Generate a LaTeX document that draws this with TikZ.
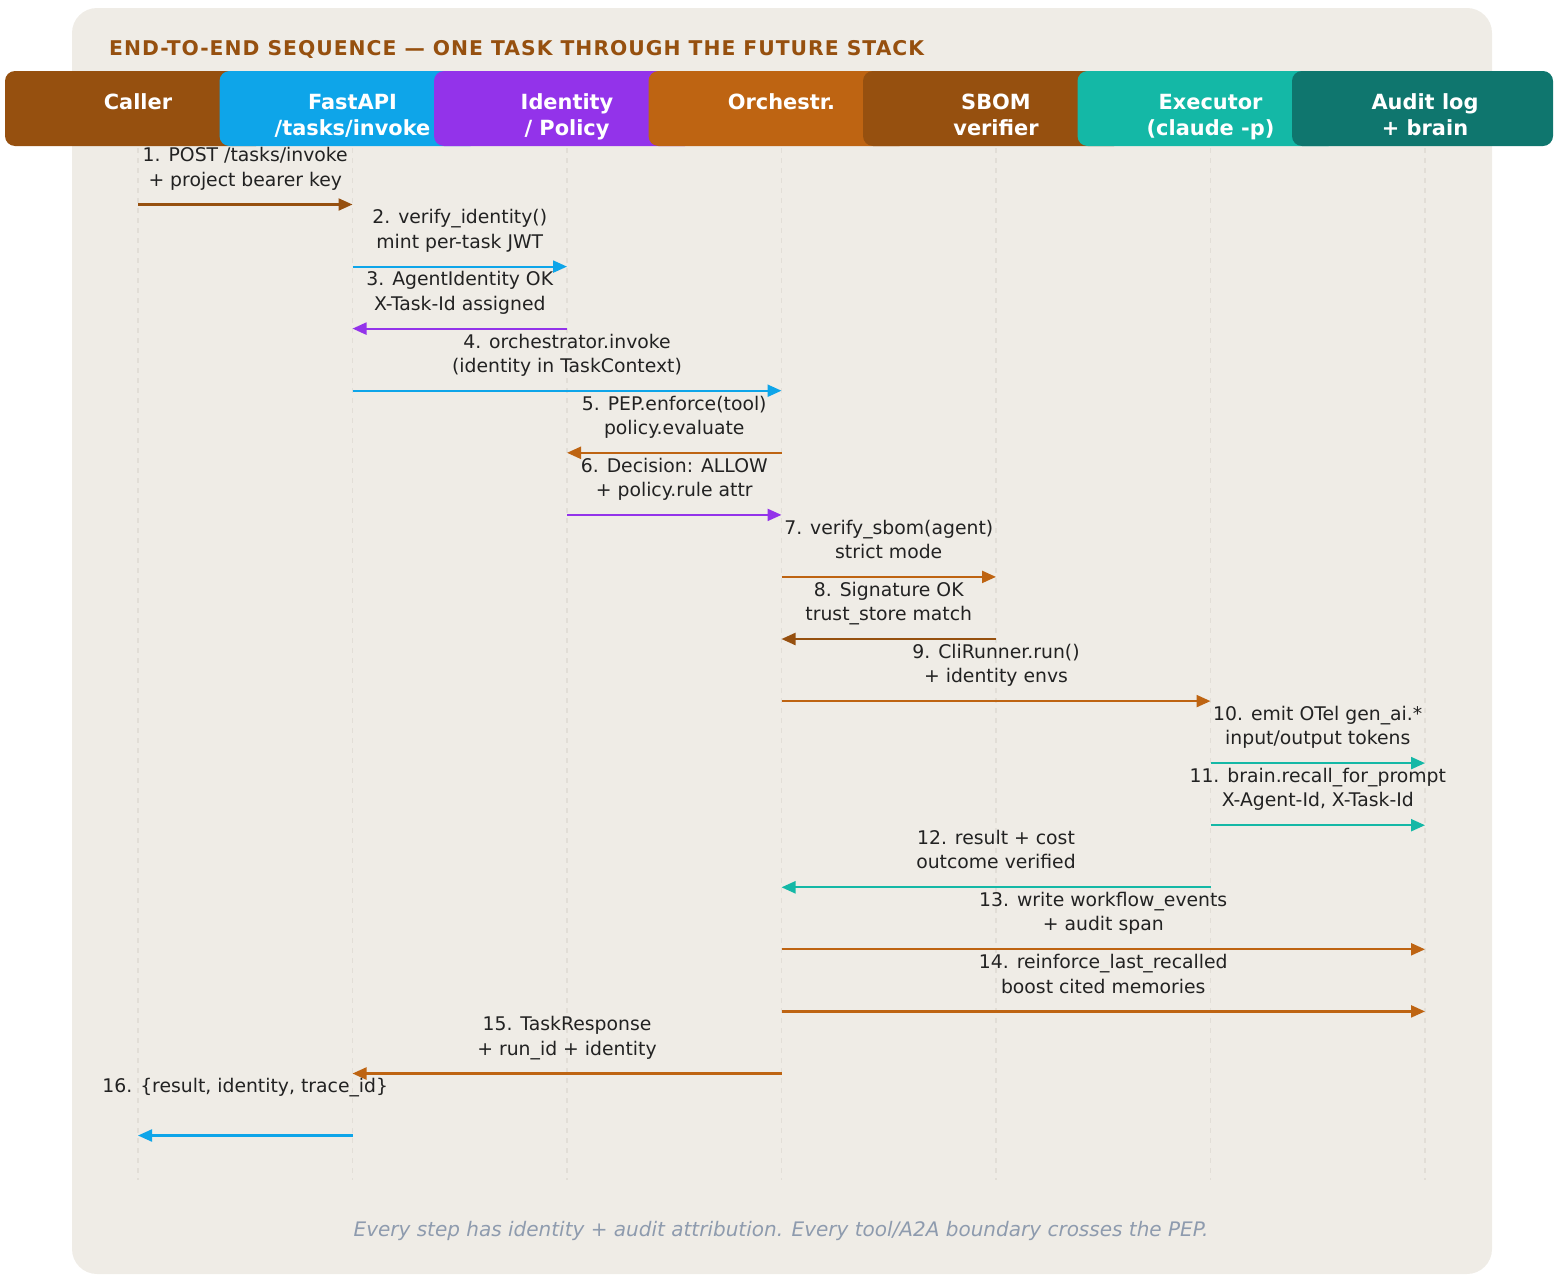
\documentclass[tikz,border=0pt]{standalone}
\usepackage{fontspec}
\setmainfont{DejaVu Sans}
\usetikzlibrary{arrows.meta,calc}

\definecolor{panelbg}{HTML}{EFECE6}
\definecolor{cBrown}{HTML}{96500F}
\definecolor{cSky}{HTML}{0EA5E9}
\definecolor{cPurple}{HTML}{9333EA}
\definecolor{cOrange}{HTML}{BE6412}
\definecolor{cTeal}{HTML}{14B8A6}
\definecolor{cDeepTeal}{HTML}{0F766E}
\definecolor{lifegrey}{HTML}{E2DED7}
\definecolor{labeltext}{HTML}{222222}
\definecolor{notegrey}{HTML}{8E9BAE}

% one message: from-lane, to-lane, y, colour, label name, label text
\newcommand{\seqmsg}[6]{%
  \draw[msg, draw=#4] (#1 |- 0,#3) -- (#2 |- 0,#3)
    node[msglabel, midway, yshift=60.8pt] (#5) {#6};
}

\begin{document}
\begin{tikzpicture}[x=1pt, y=-1pt,
  hdrbox/.style={rectangle, rounded corners=10pt, minimum width=261pt,
    minimum height=75pt, inner sep=0pt},
  hdrtext/.style={anchor=north, inner sep=0pt, align=center, text=white,
    font=\bfseries\fontsize{20.9}{26}\selectfont},
  lifeline/.style={draw=lifegrey, line width=1.4pt, dash pattern=on 5pt off 5pt},
  msg/.style={line width=2.2pt, -{Triangle[length=14pt, width=12pt]}},
  msglabel/.style={anchor=north, inner sep=0pt, align=center, text=labeltext,
    font=\fontsize{18.8}{24.3}\selectfont},
]
\useasboundingbox (0,0) rectangle (1554,1274);

% background panel
\fill[panelbg, rounded corners=25pt] (72,8) rectangle (1492,1274);

% title
\node[anchor=base west, inner sep=0pt, text=cBrown,
  font=\bfseries\fontsize{20.3}{24}\selectfont\addfontfeature{LetterSpace=5}] (title) at (109,55)
  {END-TO-END SEQUENCE — ONE TASK THROUGH THE FUTURE STACK};

% lane headers (drawn left to right so each overlaps the previous one)
\foreach \nm/\cx/\col/\txt in {
    hCaller/138/cBrown/{\strut Caller},
    hFast/352.5/cSky/{\strut FastAPI\\\strut /tasks/invoke},
    hIdent/567/cPurple/{\strut Identity\\\strut / Policy},
    hOrch/781.5/cOrange/{\strut Orchestr.},
    hSbom/996/cBrown/{\strut SBOM\\\strut verifier},
    hExec/1210.5/cTeal/{\strut Executor\\\strut (claude -p)},
    hAudit/1425/cDeepTeal/{\strut Audit log\\\strut + brain}} {
  \node[hdrbox, fill=\col] (\nm) at (\cx-2.5,108.5) {};
  \node[hdrtext] (t\nm) at ([xshift=2.5pt, yshift=-19.8pt]\nm.north) {\txt};
  \coordinate (\nm-top) at (\cx,148);
  \coordinate (\nm-end) at (\cx,1180);
}

% lifelines
\foreach \nm in {hCaller,hFast,hIdent,hOrch,hSbom,hExec,hAudit}
  \draw[lifeline] (\nm-top) -- (\nm-end);

% messages
\seqmsg{hCaller-top}{hFast-top}{204.5}{cBrown}{m1}{\strut 1. POST /tasks/invoke\\\strut + project bearer key}
\seqmsg{hFast-top}{hIdent-top}{266.6}{cSky}{m2}{\strut 2. verify\_identity()\\\strut mint per-task JWT}
\seqmsg{hIdent-top}{hFast-top}{328.6}{cPurple}{m3}{\strut 3. AgentIdentity OK\\\strut X-Task-Id assigned}
\seqmsg{hFast-top}{hOrch-top}{390.7}{cSky}{m4}{\strut 4. orchestrator.invoke\\\strut (identity in TaskContext)}
\seqmsg{hOrch-top}{hIdent-top}{452.8}{cOrange}{m5}{\strut 5. PEP.enforce(tool)\\\strut policy.evaluate}
\seqmsg{hIdent-top}{hOrch-top}{514.9}{cPurple}{m6}{\strut 6. Decision: ALLOW\\\strut + policy.rule attr}
\seqmsg{hOrch-top}{hSbom-top}{576.9}{cOrange}{m7}{\strut 7. verify\_sbom(agent)\\\strut strict mode}
\seqmsg{hSbom-top}{hOrch-top}{639.0}{cBrown}{m8}{\strut 8. Signature OK\\\strut trust\_store match}
\seqmsg{hOrch-top}{hExec-top}{701.1}{cOrange}{m9}{\strut 9. CliRunner.run()\\\strut + identity envs}
\seqmsg{hExec-top}{hAudit-top}{763.1}{cTeal}{m10}{\strut 10. emit OTel gen\_ai.*\\\strut input/output tokens}
\seqmsg{hExec-top}{hAudit-top}{825.2}{cTeal}{m11}{\strut 11. brain.recall\_for\_prompt\\\strut X-Agent-Id, X-Task-Id}
\seqmsg{hExec-top}{hOrch-top}{887.3}{cTeal}{m12}{\strut 12. result + cost\\\strut outcome verified}
\seqmsg{hOrch-top}{hAudit-top}{949.3}{cOrange}{m13}{\strut 13. write workflow\_events\\\strut + audit span}
\seqmsg{hOrch-top}{hAudit-top}{1011.4}{cOrange}{m14}{\strut 14. reinforce\_last\_recalled\\\strut boost cited memories}
\seqmsg{hOrch-top}{hFast-top}{1073.5}{cOrange}{m15}{\strut 15. TaskResponse\\\strut + run\_id + identity}
\seqmsg{hFast-top}{hCaller-top}{1135.5}{cSky}{m16}{\strut 16. \{result, identity, trace\_id\}}

% footnote
\node[anchor=base, inner sep=0pt, text=notegrey,
  font=\itshape\fontsize{20}{24}\selectfont] (note) at (781,1236.5)
  {Every step has identity + audit attribution. Every tool/A2A boundary crosses the PEP.};
\end{tikzpicture}
\end{document}
